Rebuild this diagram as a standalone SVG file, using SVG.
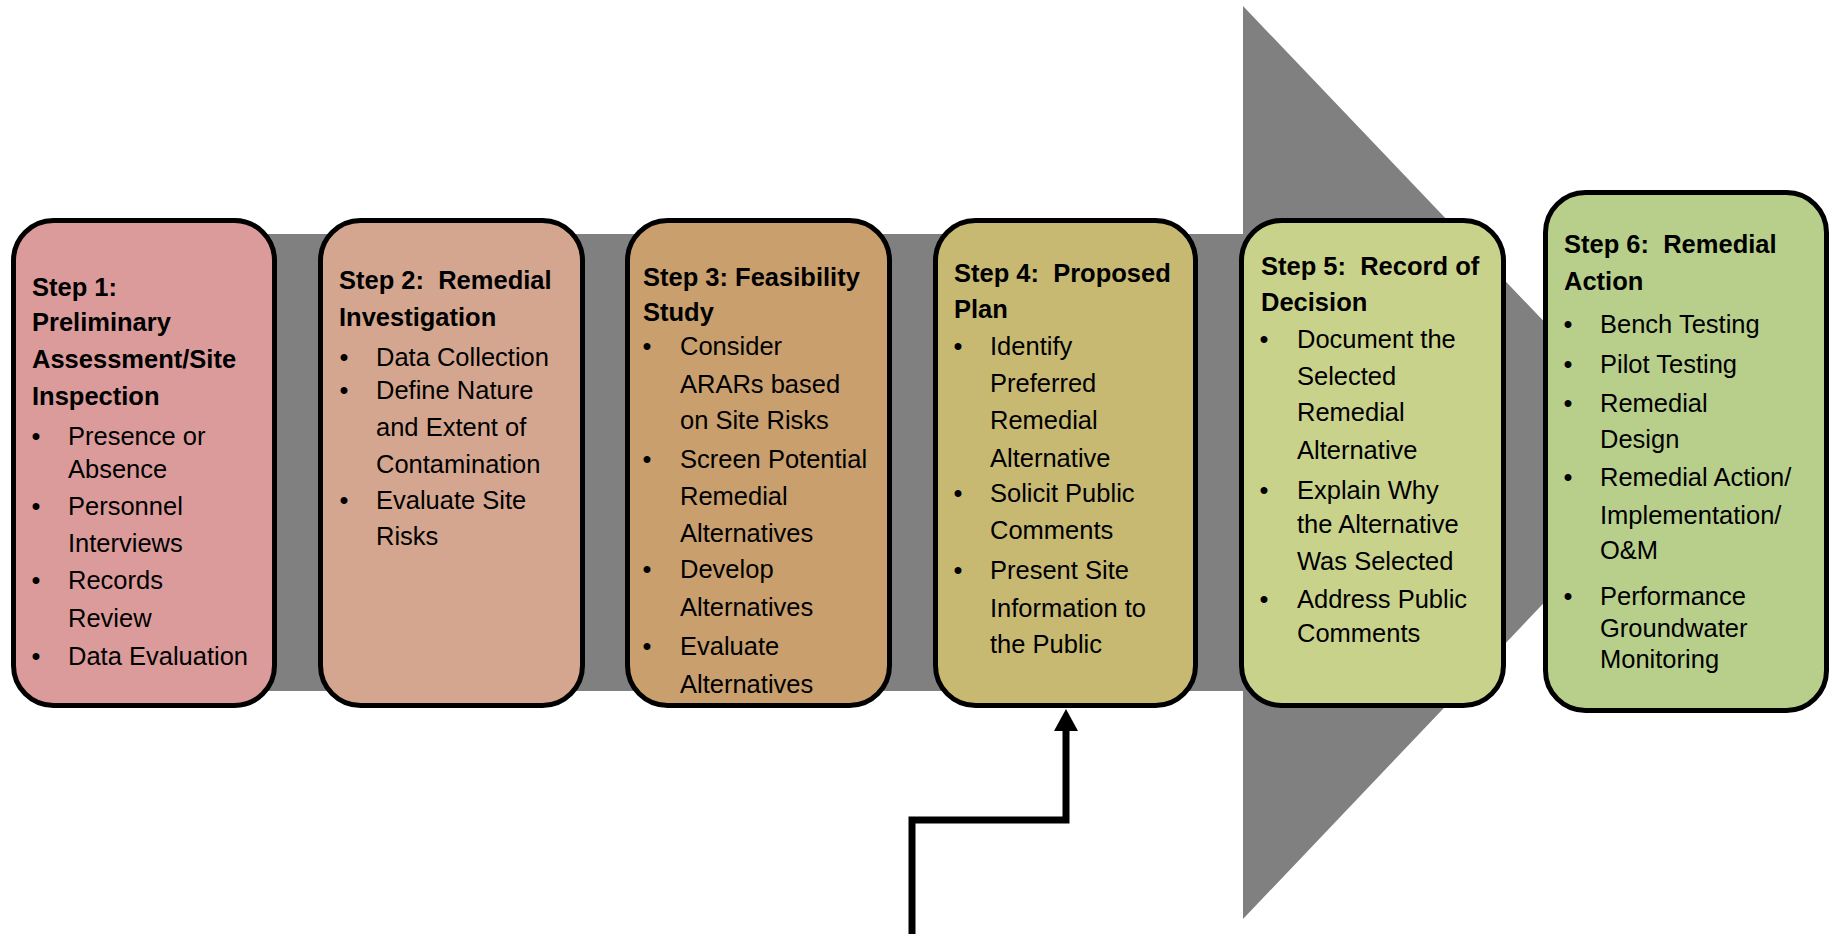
<svg xmlns="http://www.w3.org/2000/svg" width="1839" height="934" viewBox="0 0 1839 934">
<style>
.box{stroke:#000;stroke-width:5}
text{font-family:"Liberation Sans",Arial,sans-serif;font-size:25.5px;fill:#000;white-space:pre}
.t{font-weight:bold}
.b{text-anchor:middle}
</style>
<rect width="1839" height="934" fill="#fff"/>
<g id="arrow-band">
<path d="M60,234 H1243 V6 L1678,462 L1243,919 V691 H60 Z" fill="#808080"/>
</g>
<g id="step1">
<rect class="box" x="13.5" y="220.5" width="261" height="485" rx="40" fill="#DB9B9B"/>
<text class="t" x="32" y="296">Step 1:</text>
<text class="t" x="32" y="331">Preliminary</text>
<text class="t" x="32" y="368">Assessment/Site</text>
<text class="t" x="32" y="405">Inspection</text>
<text class="b" x="36" y="445">•</text><text x="68" y="445">Presence or</text>
<text x="68" y="478">Absence</text>
<text class="b" x="36" y="515">•</text><text x="68" y="515">Personnel</text>
<text x="68" y="552">Interviews</text>
<text class="b" x="36" y="589">•</text><text x="68" y="589">Records</text>
<text x="68" y="627">Review</text>
<text class="b" x="36" y="665">•</text><text x="68" y="665">Data Evaluation</text>
</g>
<g id="step2">
<rect class="box" x="320.5" y="220.5" width="262" height="485" rx="40" fill="#D5A68F"/>
<text class="t" x="339" y="289">Step 2:  Remedial</text>
<text class="t" x="339" y="326">Investigation</text>
<text class="b" x="344" y="366">•</text><text x="376" y="366">Data Collection</text>
<text class="b" x="344" y="399">•</text><text x="376" y="399">Define Nature</text>
<text x="376" y="436">and Extent of</text>
<text x="376" y="473">Contamination</text>
<text class="b" x="344" y="509">•</text><text x="376" y="509">Evaluate Site</text>
<text x="376" y="545">Risks</text>
</g>
<g id="step3">
<rect class="box" x="627.5" y="220.5" width="262" height="485" rx="40" fill="#C89F6D"/>
<text class="t" x="643" y="286">Step 3: Feasibility</text>
<text class="t" x="643" y="321">Study</text>
<text class="b" x="647" y="355">•</text><text x="680" y="355">Consider</text>
<text x="680" y="393">ARARs based</text>
<text x="680" y="429">on Site Risks</text>
<text class="b" x="647" y="468">•</text><text x="680" y="468">Screen Potential</text>
<text x="680" y="505">Remedial</text>
<text x="680" y="542">Alternatives</text>
<text class="b" x="647" y="578">•</text><text x="680" y="578">Develop</text>
<text x="680" y="616">Alternatives</text>
<text class="b" x="647" y="655">•</text><text x="680" y="655">Evaluate</text>
<text x="680" y="693">Alternatives</text>
</g>
<g id="step4">
<rect class="box" x="935.5" y="220.5" width="260" height="485" rx="40" fill="#C7B972"/>
<text class="t" x="954" y="282">Step 4:  Proposed</text>
<text class="t" x="954" y="318">Plan</text>
<text class="b" x="958" y="355">•</text><text x="990" y="355">Identify</text>
<text x="990" y="392">Preferred</text>
<text x="990" y="429">Remedial</text>
<text x="990" y="467">Alternative</text>
<text class="b" x="958" y="502">•</text><text x="990" y="502">Solicit Public</text>
<text x="990" y="539">Comments</text>
<text class="b" x="958" y="579">•</text><text x="990" y="579">Present Site</text>
<text x="990" y="617">Information to</text>
<text x="990" y="653">the Public</text>
</g>
<g id="step5">
<rect class="box" x="1241.5" y="220.5" width="262" height="485" rx="40" fill="#C9D28B"/>
<text class="t" x="1261" y="275">Step 5:  Record of</text>
<text class="t" x="1261" y="311">Decision</text>
<text class="b" x="1264" y="348">•</text><text x="1297" y="348">Document the</text>
<text x="1297" y="385">Selected</text>
<text x="1297" y="421">Remedial</text>
<text x="1297" y="459">Alternative</text>
<text class="b" x="1264" y="499">•</text><text x="1297" y="499">Explain Why</text>
<text x="1297" y="533">the Alternative</text>
<text x="1297" y="570">Was Selected</text>
<text class="b" x="1264" y="608">•</text><text x="1297" y="608">Address Public</text>
<text x="1297" y="642">Comments</text>
</g>
<g id="step6">
<rect class="box" x="1545.5" y="192.5" width="281" height="518" rx="40" fill="#B8CF8B"/>
<text class="t" x="1564" y="253">Step 6:  Remedial</text>
<text class="t" x="1564" y="290">Action</text>
<text class="b" x="1568" y="333">•</text><text x="1600" y="333">Bench Testing</text>
<text class="b" x="1568" y="373">•</text><text x="1600" y="373">Pilot Testing</text>
<text class="b" x="1568" y="412">•</text><text x="1600" y="412">Remedial</text>
<text x="1600" y="448">Design</text>
<text class="b" x="1568" y="486">•</text><text x="1600" y="486">Remedial Action/</text>
<text x="1600" y="524">Implementation/</text>
<text x="1600" y="559">O&amp;M</text>
<text class="b" x="1568" y="605">•</text><text x="1600" y="605">Performance</text>
<text x="1600" y="637">Groundwater</text>
<text x="1600" y="668">Monitoring</text>
</g>
<g id="connectors">
<path d="M912,934 V820 H1066 V728" fill="none" stroke="#000" stroke-width="7"/>
<polygon points="1066,709 1054,731 1078,731" fill="#000"/>
</g>
</svg>
